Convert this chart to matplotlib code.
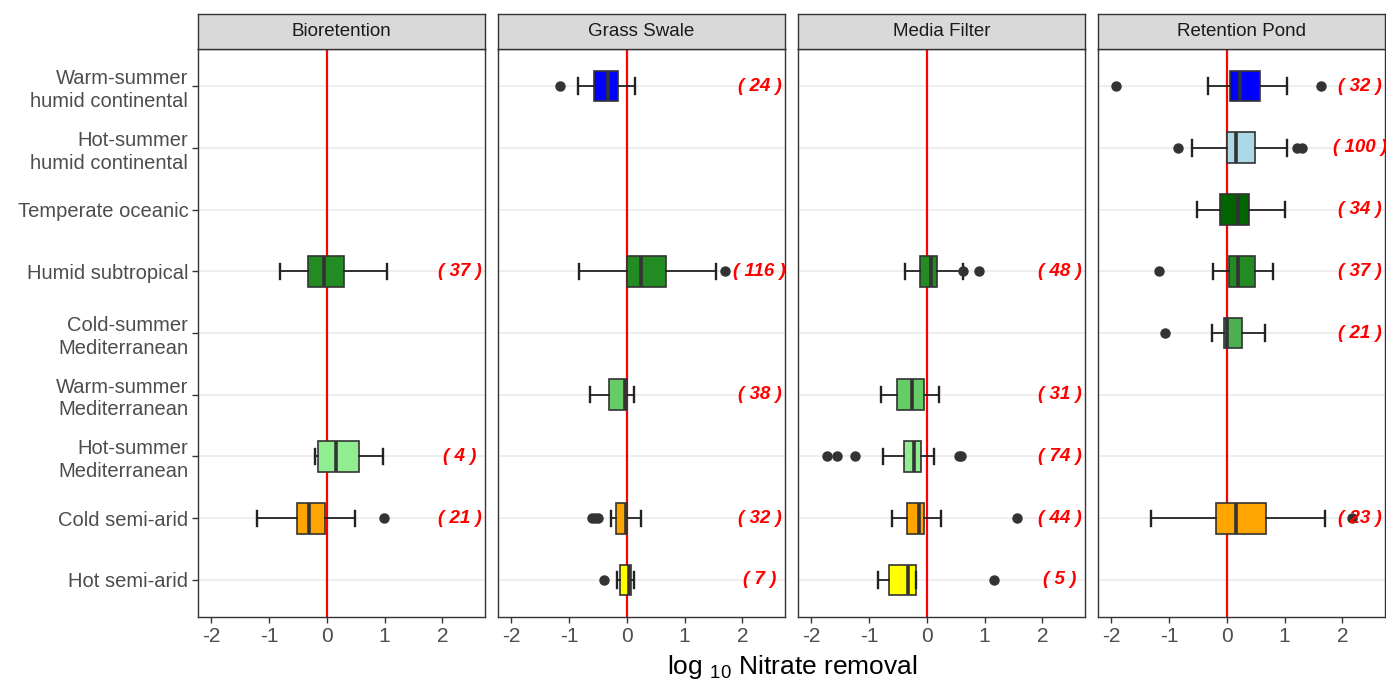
import matplotlib
matplotlib.use("Agg")

import matplotlib.pyplot as plt

plt.rcParams['font.family'] = ['Liberation Sans', 'DejaVu Sans']
plt.rcParams['mathtext.fontset'] = 'custom'
plt.rcParams['mathtext.rm'] = 'Liberation Sans'
plt.rcParams['mathtext.it'] = 'Liberation Sans:italic'

# --- Dados ---
climas = ["Warm-summer\nhumid continental", "Hot-summer\nhumid continental",
          "Temperate oceanic", "Humid subtropical", "Cold-summer\nMediterranean",
          "Warm-summer\nMediterranean", "Hot-summer\nMediterranean",
          "Cold semi-arid", "Hot semi-arid"]
cores = ["#0000FF", "#ADD8E6", "#006400", "#228B22", "#4CAF50",
         "#66CC66", "#90EE90", "#FFA500", "#FFFF00"]

paineis = ["Bioretention", "Grass Swale", "Media Filter", "Retention Pond"]

# (indice clima, whislo, q1, mediana, q3, whishi, outliers, n)
bioretention = [
    (3, -0.81, -0.33, -0.05, 0.29, 1.05, [], 37),
    (6, -0.21, -0.15, 0.16, 0.55, 0.97, [], 4),
    (7, -1.20, -0.52, -0.31, -0.03, 0.49, [0.99], 21),
]
grass_swale = [
    (0, -0.85, -0.56, -0.33, -0.16, 0.15, [-1.16], 24),
    (3, -0.82, 0.01, 0.24, 0.68, 1.54, [1.70], 116),
    (5, -0.64, -0.31, -0.03, 0.01, 0.13, [], 38),
    (7, -0.28, -0.19, -0.01, 0.01, 0.24, [-0.60, -0.55, -0.50], 32),
    (8, -0.17, -0.11, 0.04, 0.07, 0.12, [-0.39], 7),
]
media_filter = [
    (3, -0.37, -0.12, 0.08, 0.18, 0.62, [0.62, 0.90], 48),
    (5, -0.80, -0.51, -0.25, -0.05, 0.21, [], 31),
    (6, -0.76, -0.40, -0.22, -0.10, 0.12, [-1.73, -1.56, -1.25, 0.56, 0.60], 74),
    (7, -0.60, -0.34, -0.13, -0.05, 0.25, [1.57], 44),
    (8, -0.85, -0.66, -0.33, -0.18, -0.18, [1.17], 5),
]
retention_pond = [
    (0, -0.32, 0.05, 0.23, 0.58, 1.05, [-1.92, 1.63], 32),
    (1, -0.60, 0.00, 0.16, 0.49, 1.05, [-0.85, 1.22, 1.30], 100),
    (2, -0.52, -0.11, 0.20, 0.38, 1.01, [], 34),
    (3, -0.24, 0.03, 0.20, 0.49, 0.80, [-1.17], 37),
    (4, -0.25, -0.05, 0.01, 0.26, 0.66, [-1.07], 21),
    (7, -1.32, -0.19, 0.16, 0.68, 1.70, [2.16], 23),
]
dados = [bioretention, grass_swale, media_filter, retention_pond]

x_ticks = [-2, -1, 0, 1, 2]
x_lim = (-2.23, 2.74)
x_rotulo_n = 2.3

# --- Figura ---
W, H = 1386, 681
fig = plt.figure(figsize=(W / 100, H / 100), dpi=100)

esq0, largura, gap = 198, 287, 13
topo, base, strip_h = 49, 617, 35
n_cat = len(climas)
borda = "#333333"

for k, (nome, linhas) in enumerate(zip(paineis, dados)):
    x0 = esq0 + k * (largura + gap)
    ax = fig.add_axes([x0 / W, 1 - base / H, largura / W, (base - topo) / H])
    sax = fig.add_axes([x0 / W, 1 - topo / H, largura / W, strip_h / H])

    # faixa do título
    sax.set_facecolor("#D9D9D9")
    sax.set_xticks([])
    sax.set_yticks([])
    for s in sax.spines.values():
        s.set_color(borda)
        s.set_linewidth(1.0)
    sax.text(0.5, 0.5, nome, ha="center", va="center", fontsize=13.5,
             color="#1A1A1A", transform=sax.transAxes)

    # grade horizontal
    for i in range(n_cat):
        ax.axhline(n_cat - i, color="#EBEBEB", lw=1.2, zorder=0)

    ax.axvline(0, color="red", lw=1.6, zorder=1)

    stats, pos, fills = [], [], []
    for (ci, wl, q1, med, q3, wh, fl, n) in linhas:
        stats.append(dict(med=med, q1=q1, q3=q3, whislo=wl, whishi=wh, fliers=fl))
        pos.append(n_cat - ci)
        fills.append(cores[ci])
        ax.text(x_rotulo_n, n_cat - ci, f"( {n} )", ha="center", va="center",
                color="red", fontsize=13.5, fontweight="bold", style="italic",
                zorder=5)

    bp = ax.bxp(stats, positions=pos, widths=0.5, orientation="horizontal",
                patch_artist=True, capwidths=0.25, manage_ticks=False,
                boxprops=dict(edgecolor=borda, linewidth=1.2),
                medianprops=dict(color=borda, linewidth=2.6),
                whiskerprops=dict(color="#222222", linewidth=1.3),
                capprops=dict(color="#222222", linewidth=1.7),
                flierprops=dict(marker="o", markerfacecolor=borda,
                                markeredgecolor=borda, markersize=6.5))
    for patch, c in zip(bp["boxes"], fills):
        patch.set_facecolor(c)
        patch.set_zorder(3)
    for key in ("medians", "whiskers", "caps", "fliers"):
        for art in bp[key]:
            art.set_zorder(4)

    ax.set_xlim(*x_lim)
    ax.set_ylim(0.4, n_cat + 0.6)
    ax.set_xticks(x_ticks)
    ax.set_xticklabels([str(t) for t in x_ticks])
    ax.tick_params(axis="x", colors=borda, width=1.0, length=4,
                   labelsize=15, labelcolor="#4D4D4D", pad=3)
    if k == 0:
        ax.set_yticks([n_cat - i for i in range(n_cat)])
        ax.set_yticklabels(climas, fontsize=14.5, color="#4D4D4D",
                           linespacing=1.25)
        ax.tick_params(axis="y", colors=borda, width=1.0, length=4,
                       labelcolor="#4D4D4D", pad=3)
    else:
        ax.set_yticks([])
    for s in ax.spines.values():
        s.set_color(borda)
        s.set_linewidth(1.0)

fig.text(792 / W, 7 / H, r"log $_{10}$ Nitrate removal", ha="center",
         va="baseline", fontsize=19, color="black")

plt.savefig("out.png", dpi=100)
